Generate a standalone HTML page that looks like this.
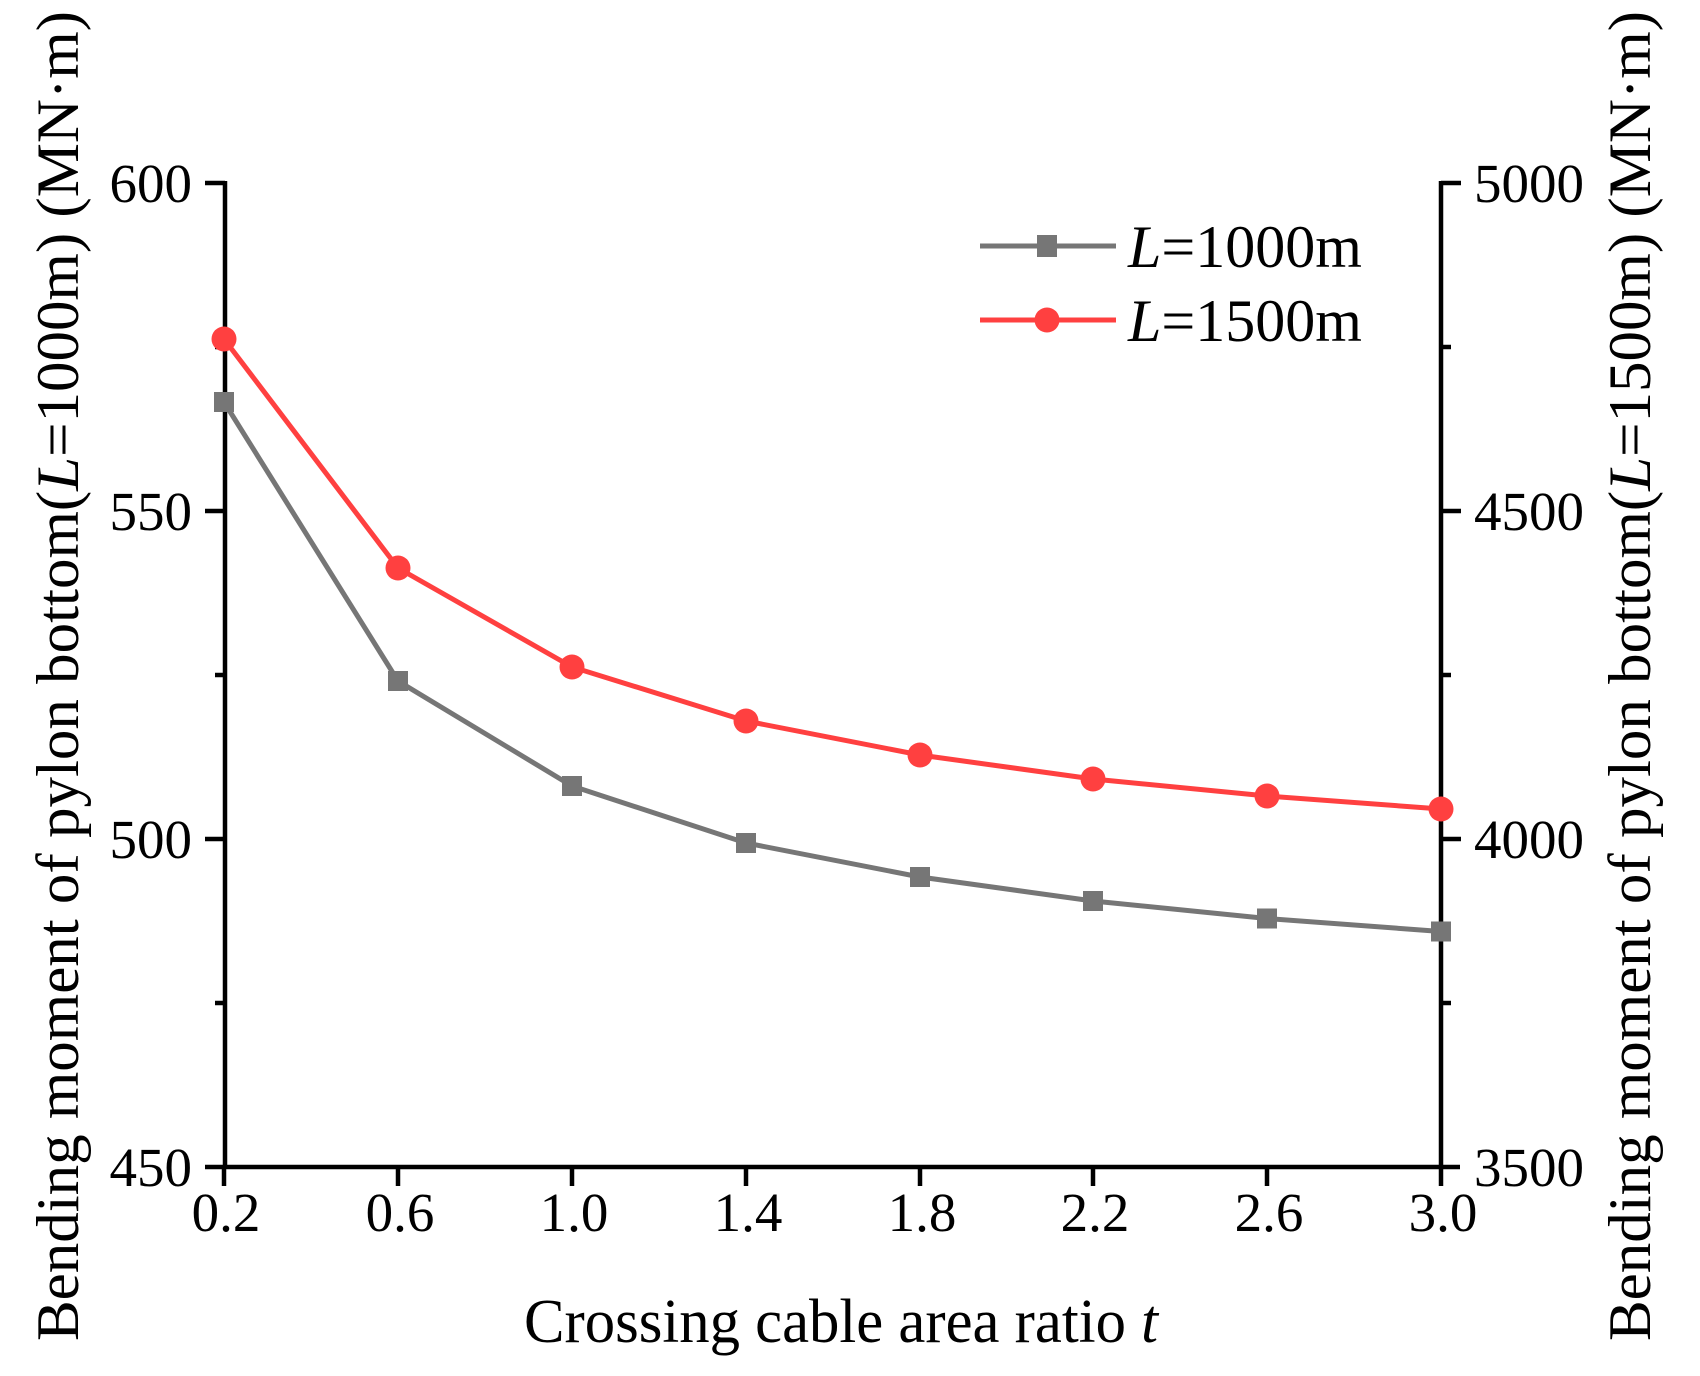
<!DOCTYPE html>
<html><head><meta charset="utf-8"><style>html,body{margin:0;padding:0;background:#fff}svg{display:block}</style></head>
<body>
<svg width="1700" height="1376" viewBox="0 0 1700 1376" xmlns="http://www.w3.org/2000/svg" font-family="'Liberation Serif', serif" fill="#000">
<rect width="1700" height="1376" fill="#fff"/>
<g stroke="#000" stroke-width="4.5" fill="none">
<line x1="225" y1="181" x2="225" y2="1169"/>
<line x1="1441" y1="181" x2="1441" y2="1169"/>
<line x1="205" y1="1167" x2="1460" y2="1167"/>
<line x1="205" y1="183" x2="225" y2="183"/>
<line x1="205" y1="511" x2="225" y2="511"/>
<line x1="205" y1="839" x2="225" y2="839"/>
<line x1="215" y1="347" x2="225" y2="347"/>
<line x1="215" y1="675" x2="225" y2="675"/>
<line x1="215" y1="1003" x2="225" y2="1003"/>
<line x1="1441" y1="183" x2="1461" y2="183"/>
<line x1="1441" y1="511" x2="1461" y2="511"/>
<line x1="1441" y1="839" x2="1461" y2="839"/>
<line x1="1441" y1="347" x2="1451" y2="347"/>
<line x1="1441" y1="675" x2="1451" y2="675"/>
<line x1="1441" y1="1003" x2="1451" y2="1003"/>
<line x1="224" y1="1167" x2="224" y2="1186"/>
<line x1="398" y1="1167" x2="398" y2="1186"/>
<line x1="572" y1="1167" x2="572" y2="1186"/>
<line x1="746" y1="1167" x2="746" y2="1186"/>
<line x1="920" y1="1167" x2="920" y2="1186"/>
<line x1="1093" y1="1167" x2="1093" y2="1186"/>
<line x1="1267" y1="1167" x2="1267" y2="1186"/>
<line x1="1441" y1="1167" x2="1441" y2="1186"/>
</g>
<g font-size="55" text-anchor="end">
<text x="192" y="202">600</text>
<text x="192" y="530">550</text>
<text x="192" y="858">500</text>
<text x="192" y="1186">450</text>
</g>
<g font-size="55" text-anchor="start">
<text x="1474" y="202">5000</text>
<text x="1474" y="530">4500</text>
<text x="1474" y="858">4000</text>
<text x="1474" y="1186">3500</text>
</g>
<g font-size="55" text-anchor="middle">
<text x="226" y="1231">0.2</text>
<text x="400" y="1231">0.6</text>
<text x="574" y="1231">1.0</text>
<text x="748" y="1231">1.4</text>
<text x="922" y="1231">1.8</text>
<text x="1095" y="1231">2.2</text>
<text x="1269" y="1231">2.6</text>
<text x="1443" y="1231">3.0</text>
</g>
<text x="524" y="1342" font-size="62" textLength="634" lengthAdjust="spacingAndGlyphs">Crossing cable area ratio <tspan font-style="italic">t</tspan></text>
<text transform="translate(78,676) rotate(-90)" font-size="60" text-anchor="middle" textLength="1330" lengthAdjust="spacingAndGlyphs">Bending moment of pylon bottom(<tspan font-style="italic">L</tspan>=1000m) (MN·m)</text>
<text transform="translate(1650,676) rotate(-90)" font-size="60" text-anchor="middle" textLength="1330" lengthAdjust="spacingAndGlyphs">Bending moment of pylon bottom(<tspan font-style="italic">L</tspan>=1500m) (MN·m)</text>
<polyline fill="none" stroke="#767676" stroke-width="5" points="224,402 398,681 572,786 746,843 920,877 1093,901 1267,918.5 1441,931.5"/>
<g fill="#767676">
<rect x="214" y="392" width="20" height="20"/>
<rect x="388" y="671" width="20" height="20"/>
<rect x="562" y="776" width="20" height="20"/>
<rect x="736" y="833" width="20" height="20"/>
<rect x="910" y="867" width="20" height="20"/>
<rect x="1083" y="891" width="20" height="20"/>
<rect x="1257" y="908.5" width="20" height="20"/>
<rect x="1431" y="921.5" width="20" height="20"/>
</g>
<polyline fill="none" stroke="#ff4040" stroke-width="5" points="224,339 398,568 572,667 746,721 920,755 1093,779 1267,796 1441,809"/>
<g fill="#ff4040">
<circle cx="224" cy="339" r="12.5"/>
<circle cx="398" cy="568" r="12.5"/>
<circle cx="572" cy="667" r="12.5"/>
<circle cx="746" cy="721" r="12.5"/>
<circle cx="920" cy="755" r="12.5"/>
<circle cx="1093" cy="779" r="12.5"/>
<circle cx="1267" cy="796" r="12.5"/>
<circle cx="1441" cy="809" r="12.5"/>
</g>
<line x1="980" y1="246" x2="1116" y2="246" stroke="#767676" stroke-width="5"/>
<rect x="1037" y="235" width="20" height="22" fill="#767676"/>
<line x1="980" y1="320" x2="1116" y2="320" stroke="#ff4040" stroke-width="5"/>
<circle cx="1047" cy="320" r="12.5" fill="#ff4040"/>
<text x="1128" y="267" font-size="60"><tspan font-style="italic">L</tspan>=1000m</text>
<text x="1128" y="341" font-size="60"><tspan font-style="italic">L</tspan>=1500m</text>
</svg>
</body></html>
